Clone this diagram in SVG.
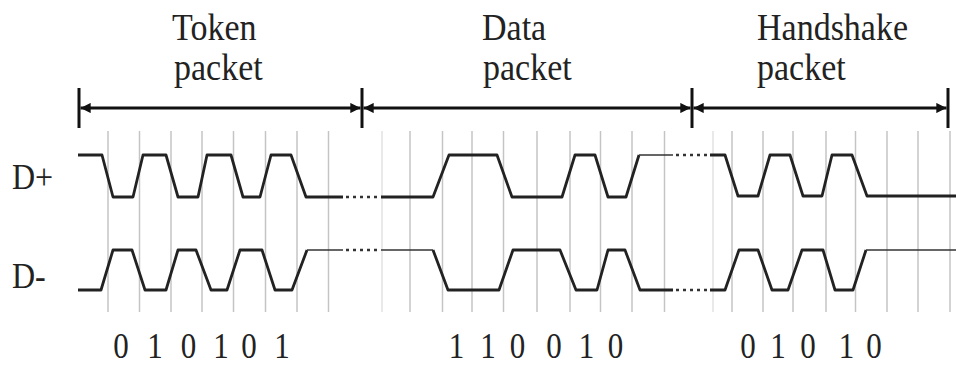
<svg xmlns="http://www.w3.org/2000/svg" width="956" height="365" viewBox="0 0 956 365">
<style>
.t{font-family:"Liberation Serif","Times New Roman",serif;fill:#222}
.title{font-size:34px}
.lab{font-size:32px}
.bit{font-size:31px;text-anchor:middle}
.grid line{stroke:#c4c4c4;stroke-width:1.5}
.grid line.f{stroke:#e2e2e2}
.sig{fill:none;stroke:#222;stroke-width:2.8;stroke-linejoin:round}
.thin{fill:none;stroke:#333;stroke-width:1.6}
.dot{fill:none;stroke:#333;stroke-width:2.6;stroke-dasharray:3 4}
.dim{stroke:#111;stroke-width:3}
.tick{stroke:#111;stroke-width:3}
</style>
<defs>
<marker id="ah" viewBox="0 0 10 10" refX="10" refY="5" markerWidth="3.4" markerHeight="3.4" orient="auto-start-reverse" markerUnits="strokeWidth">
<path d="M0,0 L10,5 L0,10 Z" fill="#111"/>
</marker>
</defs>

<g id="labels">
<text class="t title" transform="translate(172,40) scale(1,1.1)">Token</text>
<text class="t title" transform="translate(174,80) scale(1,1.1)">packet</text>
<text class="t title" transform="translate(482,40) scale(1,1.1)">Data</text>
<text class="t title" transform="translate(483,80) scale(1,1.1)">packet</text>
<text class="t title" transform="translate(757,40) scale(1,1.1)">Handshake</text>
<text class="t title" transform="translate(757,80) scale(1,1.1)">packet</text>
<text class="t lab" transform="translate(12,189) scale(1,1.1)">D+</text>
<text class="t lab" transform="translate(12,288) scale(1,1.1)">D-</text>
</g>

<g id="grid" class="grid">
<line x1="108" y1="131" x2="108" y2="312"/>
<line x1="139.5" y1="131" x2="139.5" y2="312"/>
<line x1="171" y1="131" x2="171" y2="312"/>
<line x1="202" y1="131" x2="202" y2="312"/>
<line x1="233.5" y1="131" x2="233.5" y2="312"/>
<line x1="265.5" y1="131" x2="265.5" y2="312"/>
<line x1="297" y1="131" x2="297" y2="312"/>
<line x1="328.5" y1="131" x2="328.5" y2="312"/>
<line class="f" x1="382" y1="131" x2="382" y2="312"/>
<line x1="410" y1="131" x2="410" y2="312"/>
<line x1="442.5" y1="131" x2="442.5" y2="312"/>
<line x1="472" y1="131" x2="472" y2="312"/>
<line x1="503.5" y1="131" x2="503.5" y2="312"/>
<line x1="537" y1="131" x2="537" y2="312"/>
<line x1="570" y1="131" x2="570" y2="312"/>
<line x1="600.5" y1="131" x2="600.5" y2="312"/>
<line x1="632" y1="131" x2="632" y2="312"/>
<line x1="664.5" y1="131" x2="664.5" y2="312"/>
<line class="f" x1="713" y1="131" x2="713" y2="312"/>
<line x1="732" y1="131" x2="732" y2="312"/>
<line x1="763" y1="131" x2="763" y2="312"/>
<line x1="793" y1="131" x2="793" y2="312"/>
<line x1="826" y1="131" x2="826" y2="312"/>
<line x1="855.5" y1="131" x2="855.5" y2="312"/>
<line x1="887" y1="131" x2="887" y2="312"/>
<line x1="918" y1="131" x2="918" y2="312"/>
<line x1="950" y1="131" x2="950" y2="312"/>
</g>

<g id="connectors">
<line class="tick" x1="79" y1="88" x2="79" y2="128"/>
<line class="tick" x1="362" y1="88" x2="362" y2="128"/>
<line class="tick" x1="692" y1="88" x2="692" y2="128"/>
<line class="tick" x1="948" y1="88" x2="948" y2="128"/>
<line class="dim" x1="80.5" y1="108" x2="360.5" y2="108" marker-start="url(#ah)" marker-end="url(#ah)"/>
<line class="dim" x1="363.5" y1="108" x2="690.5" y2="108" marker-start="url(#ah)" marker-end="url(#ah)"/>
<line class="dim" x1="693.5" y1="108" x2="946.5" y2="108" marker-start="url(#ah)" marker-end="url(#ah)"/>
</g>

<g id="dplus">
<polyline class="sig" points="78,155 102,155 113,197 133,197 143,155 166,155 178,197 198,197 207,155 231,155 243,197 260,197 271,155 291,155 306,197 343,197"/>
<line class="dot" x1="346" y1="197" x2="381" y2="197"/>
<polyline class="sig" points="381,197 433,197 449,155 497,155 512,197 562,197 575,155 595,155 608,197 626,197 639,155"/>
<line class="thin" x1="639" y1="155" x2="673" y2="155"/>
<line class="dot" x1="676" y1="155" x2="710" y2="155"/>
<polyline class="sig" points="710,155 725,155 738,196 758,196 770,155 790,155 803,196 822,196 832,155 852,155 867,196 956,196"/>
</g>

<g id="dminus">
<polyline class="sig" points="78,290 101,290 113,250 132,250 145,290 166,290 178,250 196,250 211,290 227,290 240,250 262,250 275,290 292,290 307,250"/>
<line class="thin" x1="307" y1="250" x2="343" y2="250"/>
<line class="dot" x1="346" y1="250" x2="381" y2="250"/>
<line class="thin" x1="381" y1="250" x2="433" y2="250"/>
<polyline class="sig" points="433,250 448,290 499,290 513,250 560,250 576,290 597,290 608,250 625,250 640,290 673,290"/>
<line class="dot" x1="676" y1="290" x2="710" y2="290"/>
<polyline class="sig" points="710,290 725,290 739,250 758,250 772,290 788,290 802,250 823,250 835,290 853,290 866,250"/>
<line class="thin" x1="866" y1="250" x2="956" y2="250"/>
</g>

<g id="bits">
<text class="t bit" transform="translate(121,358) scale(1,1.14)">0</text>
<text class="t bit" transform="translate(155,358) scale(1,1.14)">1</text>
<text class="t bit" transform="translate(188.5,358) scale(1,1.14)">0</text>
<text class="t bit" transform="translate(221,358) scale(1,1.14)">1</text>
<text class="t bit" transform="translate(249,358) scale(1,1.14)">0</text>
<text class="t bit" transform="translate(282,358) scale(1,1.14)">1</text>
<text class="t bit" transform="translate(456.5,358) scale(1,1.14)">1</text>
<text class="t bit" transform="translate(488,358) scale(1,1.14)">1</text>
<text class="t bit" transform="translate(517.5,358) scale(1,1.14)">0</text>
<text class="t bit" transform="translate(554,358) scale(1,1.14)">0</text>
<text class="t bit" transform="translate(586.5,358) scale(1,1.14)">1</text>
<text class="t bit" transform="translate(615.5,358) scale(1,1.14)">0</text>
<text class="t bit" transform="translate(748,358) scale(1,1.14)">0</text>
<text class="t bit" transform="translate(778,358) scale(1,1.14)">1</text>
<text class="t bit" transform="translate(808,358) scale(1,1.14)">0</text>
<text class="t bit" transform="translate(846.5,358) scale(1,1.14)">1</text>
<text class="t bit" transform="translate(874,358) scale(1,1.14)">0</text>
</g>
</svg>
